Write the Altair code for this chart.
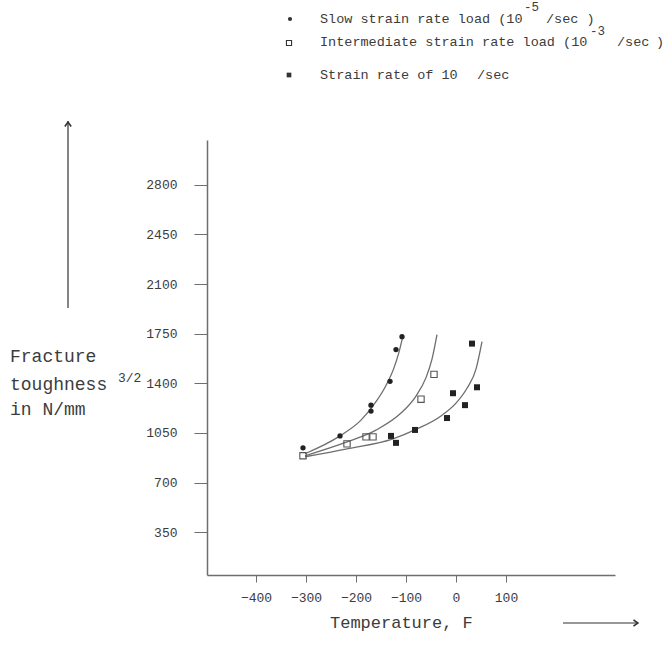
import altair as alt
import pandas as pd

# Measured fracture toughness (N/mm^3/2) against temperature (F)
slow_temp = [-306, -232, -170, -170, -132, -120, -108]
slow_k = [945, 1029, 1246, 1204, 1414, 1638, 1729]
mid_temp = [-306, -218, -180, -166, -70, -44]
mid_k = [889, 973, 1022, 1022, 1288, 1463]
fast_temp = [-130, -120, -82, -18, -6, 18, 32, 42]
fast_k = [1029, 980, 1071, 1155, 1330, 1246, 1680, 1372]

# Hand-fitted trend curves through each family
slow_fit_temp = [-302, -232, -190, -160, -140, -125, -114, -106]
slow_fit_k = [903, 1029, 1140, 1270, 1385, 1500, 1620, 1736]
mid_fit_temp = [-302, -218, -160, -110, -80, -60, -48, -38]
mid_fit_k = [889, 987, 1070, 1190, 1310, 1440, 1570, 1743]
fast_fit_temp = [-302, -218, -126, -78, -30, 0, 22, 40, 52]
fast_fit_k = [882, 938, 1008, 1078, 1170, 1260, 1365, 1500, 1694]

x_ticks = [-400, -300, -200, -100, 0, 100]
y_ticks = [350, 700, 1050, 1400, 1750, 2100, 2450, 2800]

FONT = "Liberation Mono"
INK = "#3c3c3c"
LINE = "#6e6e6e"

def frame(t, k, name):
    return pd.DataFrame({"temp": t, "k": k, "series": name})

points_slow = frame(slow_temp, slow_k, "slow")
points_mid = frame(mid_temp, mid_k, "mid")
points_fast = frame(fast_temp, fast_k, "fast")
fits = pd.concat([
    frame(slow_fit_temp, slow_fit_k, "slow"),
    frame(mid_fit_temp, mid_fit_k, "mid"),
    frame(fast_fit_temp, fast_fit_k, "fast"),
])

x_enc = alt.X("temp:Q", scale=alt.Scale(domain=[-498, 318], nice=False, zero=False),
              axis=alt.Axis(values=x_ticks, format="d", title=None, grid=False, domainColor=LINE,
                            tickColor=LINE, tickSize=7, labelFont=FONT, labelFontSize=13,
                            labelColor=INK, labelPadding=9, domainWidth=1.5))
y_enc = alt.Y("k:Q", scale=alt.Scale(domain=[48, 3116], nice=False, zero=False),
              axis=alt.Axis(values=y_ticks, format="d", title=None, grid=False, domainColor=LINE,
                            tickColor=LINE, tickSize=13, labelFont=FONT, labelFontSize=13,
                            labelColor=INK, labelPadding=17, domainWidth=1.5))

curves = alt.Chart(fits).mark_line(interpolate="monotone", color=LINE, strokeWidth=1.3).encode(
    x=x_enc, y=y_enc, detail="series:N")
dots = alt.Chart(points_slow).mark_point(shape="circle", filled=True, size=28, color="#222", opacity=1).encode(
    x="temp:Q", y="k:Q")
open_sq = alt.Chart(points_mid).mark_point(shape="square", filled=False, size=40, color="#555",
                                           strokeWidth=1.1, opacity=1).encode(x="temp:Q", y="k:Q")
solid_sq = alt.Chart(points_fast).mark_point(shape="square", filled=True, size=36, color="#222",
                                             opacity=1).encode(x="temp:Q", y="k:Q")

# plot origin in page pixels
OX, OY = 207, 140

def label(text, px, py, size=13.5, align="left", color=INK):
    return alt.Chart(pd.DataFrame({"t": [text]})).mark_text(
        font=FONT, fontSize=size, align=align, baseline="middle", color=color
    ).encode(x=alt.value(px - OX), y=alt.value(py - OY), text="t:N")

def marker(shape, filled, px, py, size, width=1.1):
    return alt.Chart(pd.DataFrame({"m": [0]})).mark_point(
        shape=shape, filled=filled, size=size, color="#333", opacity=1, strokeWidth=width
    ).encode(x=alt.value(px - OX), y=alt.value(py - OY))

def segment(x1, y1, x2, y2):
    return alt.Chart(pd.DataFrame({"m": [0]})).mark_rule(color="#333", strokeWidth=1.2).encode(
        x=alt.value(x1 - OX), x2=alt.value(x2 - OX), y=alt.value(y1 - OY), y2=alt.value(y2 - OY))

legend = [
    marker("circle", True, 290, 19, 18),
    label("Slow strain rate load (10", 320, 19),
    label("-5", 524, 7, size=12.5),
    label("/sec )", 546, 19),
    marker("square", False, 289, 43, 26),
    label("Intermediate strain rate load (10", 320, 42),
    label("-3", 590, 31, size=12.5),
    label("/sec", 617, 42),
    label(")", 656, 42),
    marker("square", True, 289, 75, 22),
    label("Strain rate of 10", 320, 75),
    label("/sec", 477, 75),
]

# chevron arrow heads
HEAD_UP = "M-1,0.8L0,-0.6L1,0.8"
HEAD_RIGHT = "M-0.8,-1L0.6,0L-0.8,1"

titles = [
    label("Fracture", 10, 357, size=18),
    label("toughness", 10, 385, size=18),
    label("in N/mm", 10, 410, size=18),
    label("3/2", 118, 378, size=13),
    label("Temperature, F", 330, 623, size=17),
    # vertical arrow
    segment(68, 308, 68, 121),
    marker(HEAD_UP, False, 68, 124, 40, width=1.6),
    # horizontal arrow
    segment(563, 623, 638, 623),
    marker(HEAD_RIGHT, False, 636, 623, 40, width=1.6),
]

chart = alt.layer(curves, dots, open_sq, solid_sq, *legend, *titles).properties(
    width=615 - OX, height=575 - OY,
    autosize=alt.AutoSizeParams(type="none"),
    padding={"left": OX, "top": OY, "right": 667 - 615, "bottom": 664 - 575},
    background="white",
).configure_view(stroke=None)

chart.save("out.html", embed_options={"renderer": "svg", "actions": False})
